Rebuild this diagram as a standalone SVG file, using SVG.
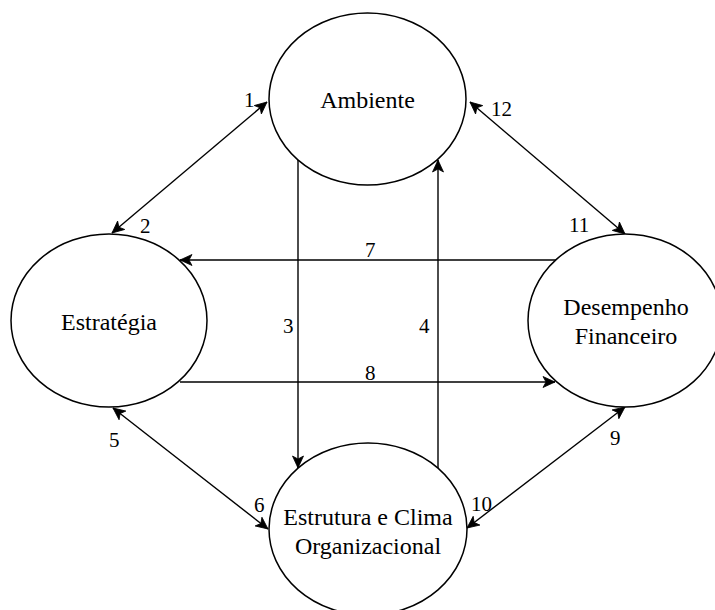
<svg xmlns="http://www.w3.org/2000/svg" width="715" height="610" viewBox="0 0 715 610">
<style>
text{font-family:'Liberation Serif','Times New Roman','DejaVu Serif',serif}
.node{fill:#fff;stroke:#000;stroke-width:1.5}
.lbl{font-size:24px;fill:#000;text-anchor:middle}
.num{font-size:21px;fill:#000}
.edge{fill:none;stroke:#000;stroke-width:1.4}
</style>
<defs>
<marker id="arr" markerUnits="userSpaceOnUse" markerWidth="14" markerHeight="14" viewBox="-1 -7 14 14" refX="12" refY="0" orient="auto-start-reverse">
<path d="M0,-5.5 L12,0 L0,5.5 L3,0 Z" fill="#000" stroke="#000" stroke-width="0.8"/>
</marker>
</defs>
<rect width="715" height="610" fill="#fff"/>
<g id="connectors">
<line class="edge" x1="267" y1="102" x2="112" y2="233" marker-start="url(#arr)" marker-end="url(#arr)"/>
<line class="edge" x1="470" y1="102" x2="625" y2="234" marker-start="url(#arr)" marker-end="url(#arr)"/>
<line class="edge" x1="298" y1="160" x2="298" y2="468" marker-end="url(#arr)"/>
<line class="edge" x1="438" y1="468" x2="438" y2="160" marker-end="url(#arr)"/>
<line class="edge" x1="557" y1="260" x2="180" y2="260" marker-end="url(#arr)"/>
<line class="edge" x1="180" y1="382" x2="555" y2="382" marker-end="url(#arr)"/>
<line class="edge" x1="113" y1="408" x2="268" y2="529" marker-start="url(#arr)" marker-end="url(#arr)"/>
<line class="edge" x1="625" y1="407" x2="467" y2="528" marker-start="url(#arr)" marker-end="url(#arr)"/>
<text class="num" x="244" y="107" style="font-family:'Liberation Serif',serif">1</text>
<text class="num" x="140" y="233" style="font-family:'Liberation Serif',serif">2</text>
<text class="num" x="491" y="116" style="font-family:'Liberation Serif',serif">12</text>
<text class="num" x="569" y="232" style="font-family:'Liberation Serif',serif">11</text>
<text class="num" x="283" y="333" style="font-family:'Liberation Serif',serif">3</text>
<text class="num" x="419" y="333" style="font-family:'Liberation Serif',serif">4</text>
<text class="num" x="365" y="257" style="font-family:'Liberation Serif',serif">7</text>
<text class="num" x="365" y="380" style="font-family:'Liberation Serif',serif">8</text>
<text class="num" x="109" y="447" style="font-family:'Liberation Serif',serif">5</text>
<text class="num" x="254" y="512" style="font-family:'Liberation Serif',serif">6</text>
<text class="num" x="610" y="445" style="font-family:'Liberation Serif',serif">9</text>
<text class="num" x="471" y="511" style="font-family:'Liberation Serif',serif">10</text>
</g>
<g id="ambiente">
<ellipse class="node" cx="367.5" cy="99" rx="98.5" ry="86"/>
<text class="lbl" x="367.5" y="108" style="font-family:'Liberation Serif',serif">Ambiente</text>
</g>
<g id="estrategia">
<ellipse class="node" cx="109" cy="320.5" rx="98" ry="86.5"/>
<text class="lbl" x="109" y="330" style="font-family:'Liberation Serif',serif">Estratégia</text>
</g>
<g id="desempenho">
<ellipse class="node" cx="625" cy="320.5" rx="97" ry="86.5"/>
<text class="lbl" x="626" y="315" style="font-family:'Liberation Serif',serif">Desempenho</text>
<text class="lbl" x="626" y="344" style="font-family:'Liberation Serif',serif">Financeiro</text>
</g>
<g id="estrutura">
<ellipse class="node" cx="368" cy="529" rx="99" ry="86"/>
<text class="lbl" x="368" y="525" style="font-family:'Liberation Serif',serif">Estrutura e Clima</text>
<text class="lbl" x="368" y="554" style="font-family:'Liberation Serif',serif">Organizacional</text>
</g>
</svg>
